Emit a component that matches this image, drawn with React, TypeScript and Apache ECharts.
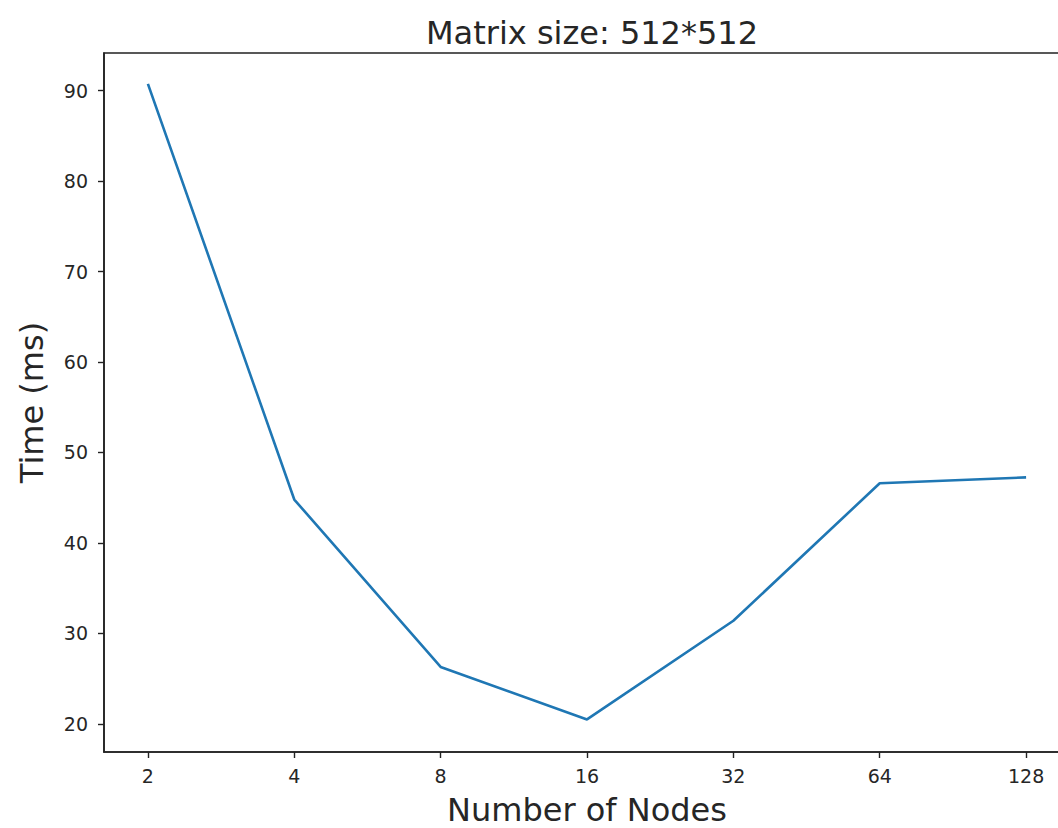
import React, { useEffect, useRef } from "react";
import * as echarts from "echarts";

const nodeLabels = ["2", "4", "8", "16", "32", "64", "128"];
const timeMs = [90.74, 44.8, 26.3, 20.5, 31.4, 46.6, 47.25];
const yTicks = [20, 30, 40, 50, 60, 70, 80, 90];
const titleText = "Matrix size: 512*512";
const xName = "Number of Nodes";
const yName = "Time (ms)";

export default function App() {
  const ref = useRef<HTMLDivElement>(null);
  useEffect(() => {
    if (!ref.current) return;
    const chart = echarts.init(ref.current, undefined, { renderer: "svg" });
    const font = "DejaVu Sans";
    const dark = "#262626";
    chart.setOption({
      animation: false,
      backgroundColor: "#ffffff",
      title: {
        text: titleText,
        left: 587,
        top: 12,
        textAlign: "center",
        textStyle: { fontFamily: font, fontSize: 32, fontWeight: "normal", color: dark },
      },
      grid: {
        left: 104,
        top: 53,
        width: 966,
        height: 699,
        outerBoundsMode: "none",
        containLabel: false,
        show: true,
        borderColor: "#222",
        borderWidth: 1.6,
        backgroundColor: "transparent",
      },
      xAxis: {
        type: "value",
        min: -0.3,
        max: 6.3,
        name: xName,
        nameLocation: "middle",
        nameGap: 42,
        nameTextStyle: { fontFamily: font, fontSize: 32, color: dark },
        axisLine: { show: true, onZero: false, lineStyle: { color: "#222", width: 1.6 } },
        axisTick: {
          show: true,
          length: 6,
          customValues: nodeLabels.map((_, i) => i),
          lineStyle: { color: "#222", width: 1.4 },
        },
        axisLabel: {
          customValues: nodeLabels.map((_, i) => i),
          formatter: (v: number) => nodeLabels[Math.round(v)] ?? "",
          fontFamily: font,
          fontSize: 19,
          color: dark,
          margin: 14,
        },
        splitLine: { show: false },
      },
      yAxis: {
        type: "value",
        min: 16.9,
        max: 94.15,
        name: yName,
        nameLocation: "middle",
        nameGap: 56,
        nameTextStyle: { fontFamily: font, fontSize: 32, color: dark },
        axisLine: { show: true, onZero: false, lineStyle: { color: "#222", width: 1.6 } },
        axisTick: {
          show: true,
          length: 6,
          customValues: yTicks,
          lineStyle: { color: "#222", width: 1.4 },
        },
        axisLabel: {
          customValues: yTicks,
          fontFamily: font,
          fontSize: 19,
          color: dark,
          margin: 16,
        },
        splitLine: { show: false },
      },
      series: [
        {
          type: "line",
          data: timeMs.map((v, i) => [i, v]),
          showSymbol: false,
          lineStyle: { color: "#1f77b4", width: 2.6 },
          itemStyle: { color: "#1f77b4" },
        },
      ],
    });
    return () => chart.dispose();
  }, []);
  return (
    <div
      style={{
        position: "absolute",
        left: 0,
        top: 0,
        width: 1058,
        height: 828,
        overflow: "hidden",
        background: "#fff",
      }}
    >
      <div ref={ref} style={{ width: 1100, height: 828 }} />
    </div>
  );
}
